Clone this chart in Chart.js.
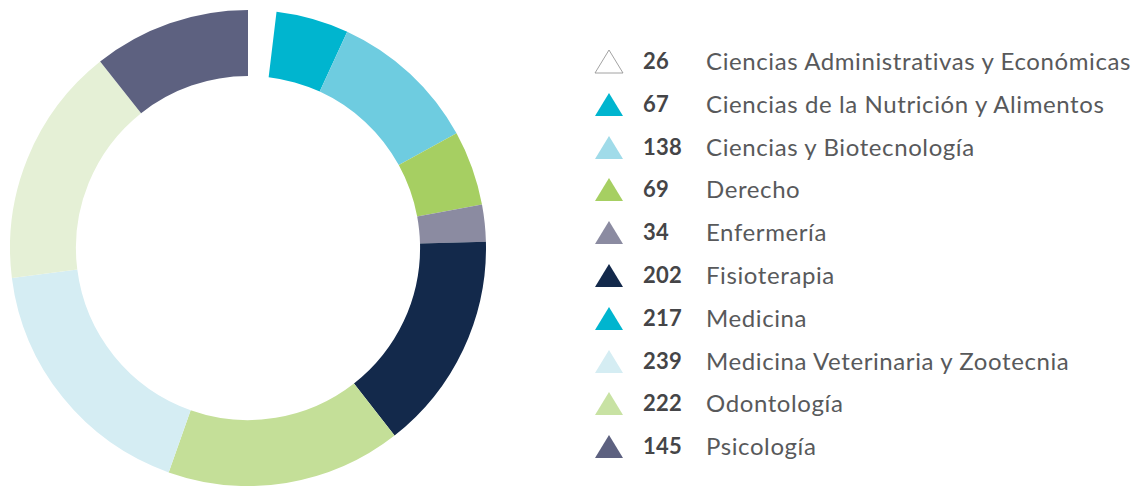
<!DOCTYPE html>
<html lang="es">
<head>
    <meta charset="UTF-8">
    <title>Estudiantes por carrera</title>
    <script src="https://cdn.jsdelivr.net/npm/chart.js@4.4.1/dist/chart.umd.min.js"></script>
    <style>
        html, body {
            margin: 0;
            padding: 0;
            background: #fff;
            width: 1140px;
            height: 486px;
            overflow: hidden;
            font-family: Lato, "Open Sans", sans-serif;
        }
        .chart-box {
            position: absolute;
            left: 10px;
            top: 10px;
            width: 476px;
            height: 476px;
        }
        .legend {
            position: absolute;
            left: 594px;
            top: 40px;
            margin: 0;
            padding: 0;
            list-style: none;
        }
        .legend li {
            position: relative;
            height: 42.8px;
            line-height: 42px;
            white-space: nowrap;
        }
        .legend svg {
            position: absolute;
            left: 0;
            top: 9px;
        }
        .legend .num {
            position: absolute;
            left: 49px;
            font-weight: 700;
            font-size: 22px;
            color: #454547;
            letter-spacing: 0.3px;
        }
        .legend .name {
            position: absolute;
            left: 112px;
            font-size: 24px;
            font-weight: 400;
            color: #58595b;
            letter-spacing: 0.6px;
        }
    </style>
</head>
<body>
<div class="chart-box">
    <canvas id="careersChart"></canvas>
</div>
<ul class="legend" id="legend"></ul>

<script>
    const careers = [
        'Ciencias Administrativas y Económicas',
        'Ciencias de la Nutrición y Alimentos',
        'Ciencias y Biotecnología',
        'Derecho',
        'Enfermería',
        'Fisioterapia',
        'Medicina',
        'Medicina Veterinaria y Zootecnia',
        'Odontología',
        'Psicología'
    ];
    const students = [26, 67, 138, 69, 34, 202, 217, 239, 222, 145];

    // ring colours as printed
    const sliceColors = ['#ffffff', '#00b5cf', '#6ecce0', '#a6cf62', '#8b8ba1',
                         '#13294b', '#c4df98', '#d5edf3', '#e5f0d6', '#5d6180'];
    // triangle colours in the key
    const markerColors = ['#ffffff', '#00b5cf', '#a0dbe9', '#a6cf62', '#8b8ba1',
                          '#13294b', '#00b5cf', '#d5edf3', '#c8e2a3', '#5d6180'];

    new Chart(document.getElementById('careersChart'), {
        type: 'doughnut',
        data: {
            labels: careers,
            datasets: [{
                data: students,
                backgroundColor: sliceColors,
                borderWidth: 0,
                hoverOffset: 0
            }]
        },
        options: {
            responsive: true,
            maintainAspectRatio: false,
            animation: false,
            cutout: '72.3%',
            layout: { padding: 0 },
            plugins: {
                legend: { display: false },
                tooltip: { enabled: false }
            },
            events: []
        }
    });

    // key on the right
    const legend = document.getElementById('legend');
    careers.forEach((name, i) => {
        const li = document.createElement('li');
        const stroke = i === 0 ? '#8a8a8a' : markerColors[i];
        li.innerHTML =
            `<svg width="30" height="25" viewBox="0 0 30 25">
                <polygon points="15,1 29,24 1,24" fill="${markerColors[i]}" stroke="${stroke}" stroke-width="${i === 0 ? 0.8 : 0}"/>
             </svg>
             <span class="num">${students[i]}</span>
             <span class="name">${name}</span>`;
        legend.appendChild(li);
    });
</script>
</body>
</html>
